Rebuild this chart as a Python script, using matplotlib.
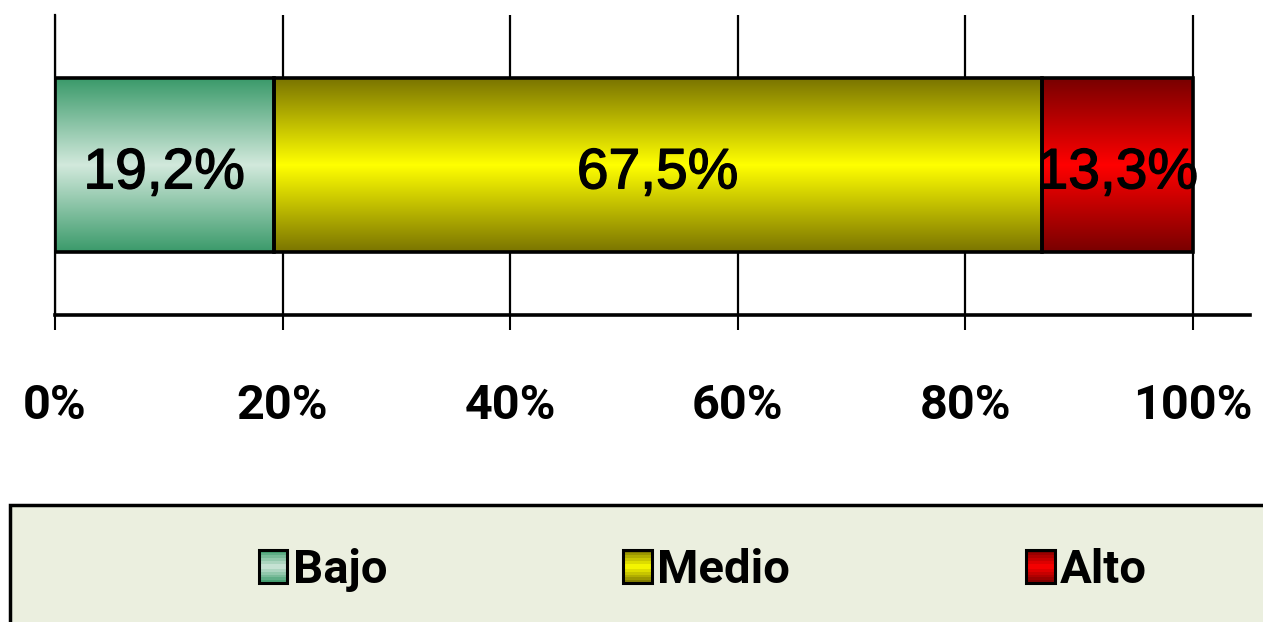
import numpy as np
import matplotlib
matplotlib.use("Agg")
import matplotlib.pyplot as plt
import matplotlib.patheffects as pe
from matplotlib.colors import LinearSegmentedColormap
from matplotlib.patches import Rectangle, Patch
from matplotlib.legend_handler import HandlerBase

categorias = ["Bajo", "Medio", "Alto"]
valores = [19.2, 67.5, 13.3]
ticks = [0, 20, 40, 60, 80, 100]
tick_labels = ["0%", "20%", "40%", "60%", "80%", "100%"]

# colores: borde oscuro -> centro claro -> borde oscuro
borde = ["#3a9a6a", "#7a7400", "#780000"]
centro = ["#d2e9dc", "#ffff00", "#ff0000"]

NARROW = ["Roboto", "DejaVu Sans"]


class HandlerGradiente(HandlerBase):
    def __init__(self, cmap):
        super().__init__()
        self.cmap = cmap

    def create_artists(self, legend, orig_handle, xdescent, ydescent,
                       width, height, fontsize, trans):
        arts = []
        n = 12
        for i in range(n):
            c = self.cmap((i + 0.5) / n)
            arts.append(Rectangle((-xdescent, -ydescent + i * height / n), width,
                                  height / n, facecolor=c, edgecolor="none",
                                  transform=trans))
        arts.append(Rectangle((-xdescent, -ydescent), width, height,
                              facecolor="none", edgecolor="black", lw=2.2,
                              transform=trans))
        return arts


fig = plt.figure(figsize=(12.63, 6.22), dpi=100)
ax = fig.add_axes([55 / 1263, 1 - 315 / 622, (1250 - 55) / 1263, 300 / 622])

lefts = np.concatenate([[0], np.cumsum(valores)[:-1]])
cont = ax.barh(0, valores, left=lefts, height=0.58, color="none",
               edgecolor="black", linewidth=2.6, zorder=3)

cmaps = []
for b, c, e, v in zip(cont.patches, centro, borde, valores):
    cm = LinearSegmentedColormap.from_list("g", [e, c, e])
    cmaps.append(cm)
    x0, y0 = b.get_x(), b.get_y()
    w, h = b.get_width(), b.get_height()
    grad = np.linspace(0, 1, 256).reshape(-1, 1)
    ax.imshow(grad, extent=[x0, x0 + w, y0, y0 + h], aspect="auto",
              cmap=cm, origin="lower", zorder=2, interpolation="bilinear")

etiquetas = [f"{v:.1f}%".replace(".", ",") for v in valores]
textos = ax.bar_label(cont, labels=etiquetas, label_type="center",
                      fontsize=41, family=["Liberation Sans", "DejaVu Sans"],
                      zorder=4)
for t in textos:
    t.xyann = (0, -6)
    t.set_path_effects([pe.withStroke(linewidth=1.0, foreground="black")])

ax.set_xlim(0, 105)
ax.set_ylim(-0.5, 0.5)
ax.set_xticks(ticks)
ax.set_xticklabels(tick_labels, fontsize=35, fontweight="bold", family=NARROW)
ax.set_yticks([])
ax.tick_params(axis="x", length=11, width=1.5, pad=38, color="black")
ax.grid(axis="x", color="black", linewidth=1.6)
ax.set_axisbelow(True)
for s in ["top", "right"]:
    ax.spines[s].set_visible(False)
ax.spines["left"].set_linewidth(1.6)
ax.spines["bottom"].set_linewidth(2.6)

# marco de la leyenda
fig.patches.append(Rectangle((10 / 1263, -0.1), 1.2, 0.1 + (622 - 505) / 622,
                             transform=fig.transFigure, facecolor="#ebefdf",
                             edgecolor="black", linewidth=2.5, zorder=0))

handles = [Patch(label=c) for c in categorias]
hmap = {h: HandlerGradiente(cm) for h, cm in zip(handles, cmaps)}
fig.legend(handles=handles, handler_map=hmap, loc="center",
           bbox_to_anchor=(703 / 1263, 1 - 570 / 622), ncol=3, frameon=False,
           prop={"family": NARROW, "weight": "bold", "size": 34},
           handlelength=0.6, handleheight=0.7, handletextpad=0.12,
           columnspacing=5.0)

fig.savefig("out.png", dpi=100)
